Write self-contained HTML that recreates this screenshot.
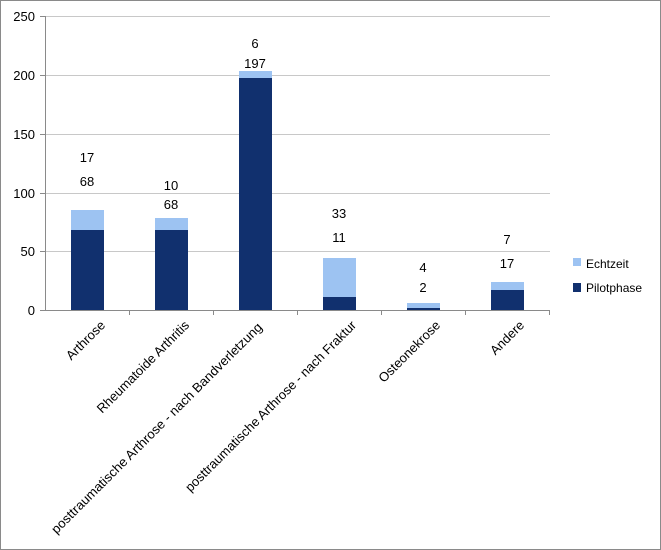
<!DOCTYPE html><html><head><style>body{margin:0;background:#fff}svg{display:block}text{font-family:"Liberation Sans",sans-serif;font-size:13px;fill:#000}</style></head><body>
<svg width="661" height="550" viewBox="0 0 661 550">
<rect x="0.5" y="0.5" width="660" height="549" fill="#fff" stroke="#8a8a8a"/>
<g stroke="#c8c8c8" stroke-width="1">
<line x1="45" y1="16.5" x2="550" y2="16.5"/><line x1="45" y1="75.5" x2="550" y2="75.5"/><line x1="45" y1="134.5" x2="550" y2="134.5"/><line x1="45" y1="193.5" x2="550" y2="193.5"/><line x1="45" y1="251.5" x2="550" y2="251.5"/>
</g>
<g stroke="#8a8a8a"><line x1="45.5" y1="16" x2="45.5" y2="310"/><line x1="40" y1="310.5" x2="550" y2="310.5"/>
<line x1="40" y1="16.5" x2="45" y2="16.5"/><line x1="40" y1="75.5" x2="45" y2="75.5"/><line x1="40" y1="134.5" x2="45" y2="134.5"/><line x1="40" y1="193.5" x2="45" y2="193.5"/><line x1="40" y1="251.5" x2="45" y2="251.5"/>
<line x1="129.5" y1="310" x2="129.5" y2="315"/><line x1="213.5" y1="310" x2="213.5" y2="315"/><line x1="297.5" y1="310" x2="297.5" y2="315"/><line x1="381.5" y1="310" x2="381.5" y2="315"/><line x1="465.5" y1="310" x2="465.5" y2="315"/><line x1="549.5" y1="310" x2="549.5" y2="315"/></g>
<g text-anchor="end"><text x="35" y="21">250</text><text x="35" y="80">200</text><text x="35" y="139">150</text><text x="35" y="198">100</text><text x="35" y="256">50</text><text x="35" y="315">0</text></g>
<g>
<rect x="71" y="230" width="33" height="80" fill="#11306e"/><rect x="71" y="210" width="33" height="20" fill="#9dc3f2"/>
<rect x="155" y="230" width="33" height="80" fill="#11306e"/><rect x="155" y="218" width="33" height="12" fill="#9dc3f2"/>
<rect x="239" y="78" width="33" height="232" fill="#11306e"/><rect x="239" y="71" width="33" height="7" fill="#9dc3f2"/>
<rect x="323" y="297" width="33" height="13" fill="#11306e"/><rect x="323" y="258" width="33" height="39" fill="#9dc3f2"/>
<rect x="407" y="308" width="33" height="2" fill="#11306e"/><rect x="407" y="303" width="33" height="5" fill="#9dc3f2"/>
<rect x="491" y="290" width="33" height="20" fill="#11306e"/><rect x="491" y="282" width="33" height="8" fill="#9dc3f2"/>
</g>
<g text-anchor="middle">
<text x="87" y="162">17</text><text x="87" y="186">68</text>
<text x="171" y="190">10</text><text x="171" y="209">68</text>
<text x="255" y="48">6</text><text x="255" y="68">197</text>
<text x="339" y="218">33</text><text x="339" y="242">11</text>
<text x="423" y="272">4</text><text x="423" y="292">2</text>
<text x="507" y="244">7</text><text x="507" y="268">17</text>
</g>
<g text-anchor="end">
<text transform="translate(106,326) rotate(-45)">Arthrose</text>
<text transform="translate(190,326) rotate(-45)">Rheumatoide Arthritis</text>
<text transform="translate(263,328) rotate(-45)" textLength="292" lengthAdjust="spacingAndGlyphs">posttraumatische Arthrose - nach Bandverletzung</text>
<text transform="translate(357,326) rotate(-45)">posttraumatische Arthrose - nach Fraktur</text>
<text transform="translate(441,326) rotate(-45)">Osteonekrose</text>
<text transform="translate(525,326) rotate(-45)">Andere</text>
</g>
<rect x="573" y="258" width="8" height="8" fill="#9dc3f2"/><text x="586" y="268" style="font-size:12px">Echtzeit</text>
<rect x="573" y="283" width="8" height="9" fill="#11306e"/><text x="586" y="292" style="font-size:12px">Pilotphase</text>
</svg></body></html>
